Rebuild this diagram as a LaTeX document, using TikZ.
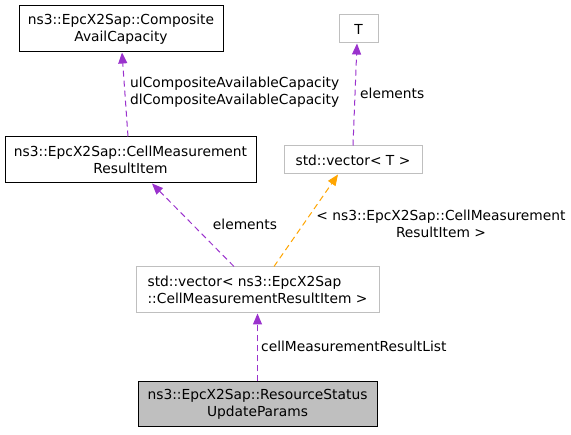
\documentclass[tikz,border=0pt]{standalone}
\usepackage{fontspec}
\setmainfont{DejaVu Sans}
\usetikzlibrary{arrows.meta}
\definecolor{edgepurple}{HTML}{9A32CD}
\definecolor{edgeorange}{HTML}{FFA500}
\definecolor{boxgray}{HTML}{BFBFBF}
\tikzset{
  box/.style={draw=black, line width=1pt, inner sep=0pt, align=center, font=\fontsize{13.8}{17}\selectfont},
  graybox/.style={box, draw=boxgray},
  mainbox/.style={box, fill=boxgray},
  lbl/.style={inner sep=0pt, font=\fontsize{13.8}{17}\selectfont},
  rel/.style={draw=edgepurple, line width=1pt, dash pattern=on 6pt off 4pt, -{Triangle[length=11pt,width=9pt,fill=edgepurple]}},
  tmpl/.style={draw=edgeorange, line width=1pt, dash pattern=on 6pt off 4pt, -{Triangle[length=11pt,width=9pt,fill=edgeorange]}},
}
\begin{document}
\begin{tikzpicture}[x=1pt,y=-1pt]
\useasboundingbox (0,0) rectangle (571,435);
\node[box, minimum width=204pt, minimum height=46pt] (comp) at (121,29) {ns3::EpcX2Sap::Composite\\AvailCapacity};
\node[box, minimum width=251pt, minimum height=46pt] (cmri) at (130.5,160) {ns3::EpcX2Sap::CellMeasurement\\ResultItem};
\node[graybox, minimum width=39pt, minimum height=28pt] (T) at (358.5,29) {T};
\node[graybox, minimum width=138pt, minimum height=28pt] (vecT) at (353,160) {std::vector< T >};
\node[graybox, minimum width=243pt, minimum height=46pt, align=left] (vecC) at (257.5,290) {std::vector< ns3::EpcX2Sap\\::CellMeasurementResultItem >};
\node[mainbox, minimum width=239pt, minimum height=45pt] (rsup) at (257.5,404.5) {ns3::EpcX2Sap::ResourceStatus\\UpdateParams};

\draw[rel] ([xshift=-2.5pt]cmri.north) -- ([xshift=1pt]comp.south);
\node[lbl, anchor=west, align=left] (l1) at (130,92.5) {ulCompositeAvailableCapacity\\dlCompositeAvailableCapacity};

\draw[rel] (vecT.north) -- ([xshift=-1.5pt]T.south);
\node[lbl, anchor=west] (l2) at (360,93) {elements};

\draw[rel] ([xshift=-23.5pt]vecC.north) -- ([xshift=21.5pt]cmri.south);
\node[lbl] (l3) at (245,224) {elements};

\draw[tmpl] ([xshift=16.5pt]vecC.north) -- ([xshift=-15pt]vecT.south);
\node[lbl, align=center] (l4) at (441,223.5) {< ns3::EpcX2Sap::CellMeasurement\\ResultItem >};

\draw[rel] (rsup.north) -- (vecC.south);
\node[lbl, anchor=west] (l5) at (261,346) {cellMeasurementResultList};
\end{tikzpicture}
\end{document}
